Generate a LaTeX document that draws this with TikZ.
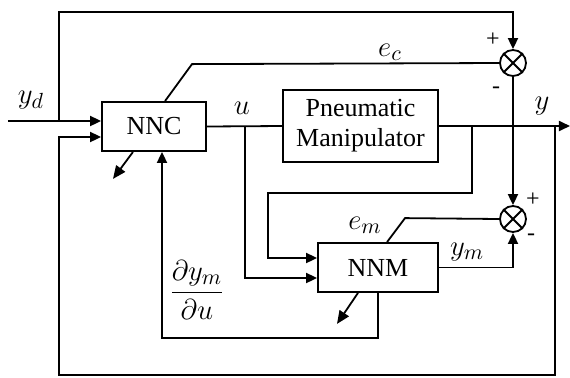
\documentclass[tikz,border=0pt]{standalone}
\usepackage{amsmath}
\usepackage{fontspec}
\setmainfont{Liberation Serif}
\usetikzlibrary{arrows.meta, positioning, calc}

\begin{document}
\begin{tikzpicture}[
    x=0.5pt, y=-0.5pt,
    every node/.style={font=\fontsize{13}{15}\selectfont},
    block/.style={rectangle, draw=black, line width=0.9pt, align=center, inner sep=2pt},
    summer/.style={circle, draw=black, line width=0.9pt, minimum size=13pt, inner sep=0pt},
    wire/.style={line width=0.9pt},
    arrow/.style={-{Triangle[length=5.5pt, width=5pt]}, line width=0.9pt},
    adapt/.style={-{Triangle[length=6.5pt, width=5.5pt]}, line width=0.9pt},
    sign/.style={font=\fontsize{12}{13}\selectfont, inner sep=0pt},
    sig/.style={font=\fontsize{15}{17}\selectfont, inner sep=0pt}
]
    \useasboundingbox (0,0) rectangle (570,377);

    % Nodes
    \node[block, minimum width=52pt, minimum height=24.5pt] (nnc) at (154,126.5) {NNC};
    \node[block, minimum width=77.5pt, minimum height=36pt] (pm) at (360.5,126) {Pneumatic\\Manipulator};
    \node[block, minimum width=60pt, minimum height=24.5pt] (nnm) at (378,267.5) {NNM};

    % Summing junctions
    \node[summer] (s1) at (513,63) {};
    \node[summer] (s2) at (513,219) {};
    \foreach \s in {s1,s2}
        \draw[wire] (\s.45) -- (\s.225) (\s.135) -- (\s.315);

    % Free ends and branch points
    \coordinate (yd) at (8,121);
    \coordinate (yout) at (570,126);
    \coordinate (ubr) at (245,126);
    \coordinate (ybr) at (472,126);
    \coordinate (yfb) at (555,126);

    % Reference input and the path to the upper summer
    \draw[arrow] (yd) -- (nnc.west |- yd);
    \draw[arrow] (59,121) |- (513,12) -- (s1.north);
    \node[sig] at (31,100) {$y_d$};

    % Controller error
    \draw[wire] ($(nnc.north)+(11,0)$) -- ++(27,-37) -- (s1.west);
    \node[sig] at (390,52) {$e_c$};
    \node[sign] at (493,40) {+};
    \node[sign] at (496,90) {-};

    % Control signal u
    \draw[wire] (nnc.east) -- (pm.west);
    \node[sig] at (242,108) {$u$};
    \draw[arrow] (ubr) |- ($(nnm.west)+(0,10.5)$);

    % Plant output y
    \draw[arrow] (pm.east) -- (yout);
    \node[sig] at (542,106) {$y$};
    \draw[arrow] (ybr) |- (268,193) |- ($(nnm.west)+(0,-9.5)$);
    \draw[arrow] (yfb) |- (59,375) |- ($(nnc.west)+(0,10.5)$);

    % Model error
    \draw[arrow] (s1.south) -- (s2.north);
    \draw[wire] ($(nnm.north)+(9,0)$) -- ++(18,-24) -- (s2.west);
    \draw[arrow] (nnm.east) -| (s2.south);
    \node[sig] at (365,225) {$e_m$};
    \node[sig] at (467,252) {$y_m$};
    \node[sign] at (533,200) {+};
    \node[sign] at (531,237) {-};

    % Jacobian back to the controller
    \draw[arrow] (nnm.south) -- ++(0,45) -| ($(nnc.south)+(8,0)$);
    \node[sig] at (197,290) {$\dfrac{\partial y_m}{\partial u}$};

    % Weight adaptation
    \draw[adapt] ($(nnc.south)+(-21,0)$) -- ++(-20,27);
    \draw[adapt] ($(nnm.south)+(-20,0)$) -- ++(-21,31);

\end{tikzpicture}
\end{document}
